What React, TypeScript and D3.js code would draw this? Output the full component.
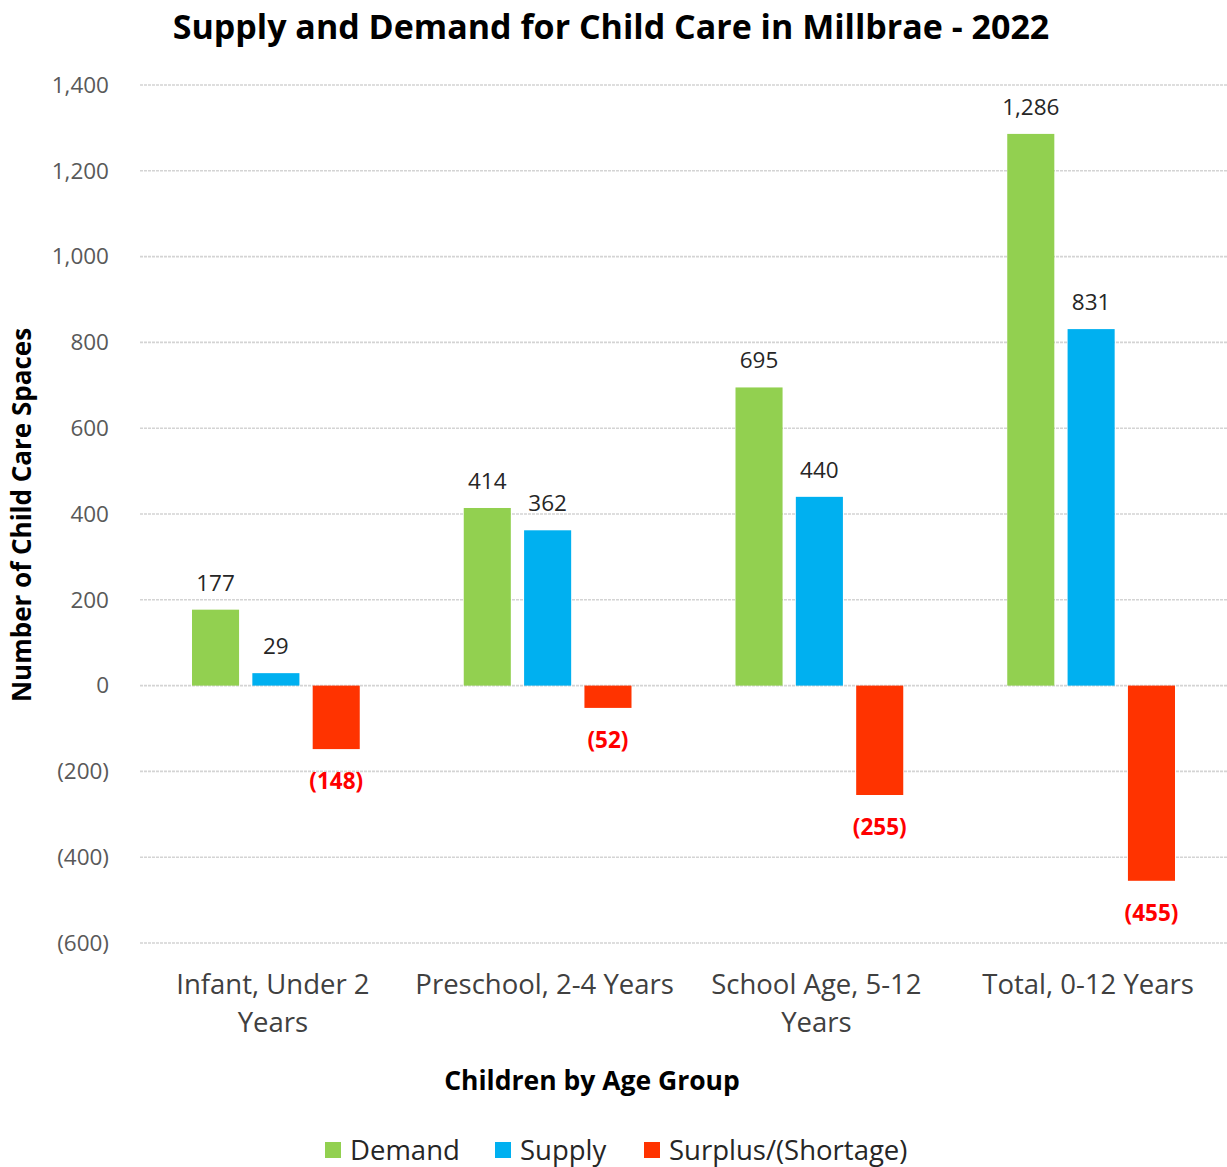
import React, { useEffect, useRef } from "react";
import * as d3 from "d3";

const categories = ["Infant, Under 2 Years", "Preschool, 2-4 Years", "School Age, 5-12 Years", "Total, 0-12 Years"];
const categoryLines = [["Infant, Under 2", "Years"], ["Preschool, 2-4 Years"], ["School Age, 5-12", "Years"], ["Total, 0-12 Years"]];
const seriesNames = ["Demand", "Supply", "Surplus/(Shortage)"];
const demand = [177, 414, 695, 1286];
const supply = [29, 362, 440, 831];
const surplus = [-148, -52, -255, -455];
const yTicks = [-600, -400, -200, 0, 200, 400, 600, 800, 1000, 1200, 1400];
const colors = ["#92D050", "#00B0F0", "#FF3300"];

const FONT = "'Open Sans', 'Noto Sans', sans-serif";

const fmt = (v: number) => (v < 0 ? `(${d3.format(",")(-v)})` : d3.format(",")(v));

const App: React.FC = () => {
  const svgRef = useRef<SVGSVGElement | null>(null);

  useEffect(() => {
    const svg = d3.select(svgRef.current);
    svg.selectAll("*").remove();

    const left = 140;
    const right = 1227;

    const x = d3.scaleBand().domain(categories).range([left, right]).paddingInner(0).paddingOuter(0);
    const xs = d3.scaleBand().domain(seriesNames).range([52, x.bandwidth() - 52]).paddingInner(0.22);
    const y = d3.scaleLinear().domain([-600, 1400]).range([943, 85]);

    // title
    svg
      .append("text")
      .attr("x", 611)
      .attr("y", 39)
      .attr("text-anchor", "middle")
      .style("font-family", FONT)
      .style("font-weight", "bold")
      .style("font-size", "34px")
      .text("Supply and Demand for Child Care in Millbrae - 2022");

    // gridlines
    svg
      .append("g")
      .selectAll("line")
      .data(yTicks)
      .enter()
      .append("line")
      .attr("x1", left)
      .attr("x2", right)
      .attr("y1", (d) => y(d))
      .attr("y2", (d) => y(d))
      .attr("stroke", "#d4d4d4")
      .attr("stroke-width", 1.6)
      .attr("stroke-dasharray", "3,1");

    // y tick labels
    svg
      .append("g")
      .selectAll("text")
      .data(yTicks)
      .enter()
      .append("text")
      .attr("x", 109)
      .attr("y", (d) => y(d))
      .attr("dy", "0.35em")
      .attr("text-anchor", "end")
      .style("font-family", FONT)
      .style("font-size", "22.5px")
      .style("fill", "#595959")
      .text((d) => fmt(d));

    const series = [demand, supply, surplus];

    series.forEach((vals, si) => {
      const g = svg.append("g");
      g.selectAll("rect")
        .data(vals)
        .enter()
        .append("rect")
        .attr("x", (_, i) => (x(categories[i]) || 0) + (xs(seriesNames[si]) || 0))
        .attr("width", xs.bandwidth())
        .attr("y", (d) => y(Math.max(0, d)))
        .attr("height", (d) => Math.abs(y(d) - y(0)))
        .attr("fill", colors[si]);

      g.selectAll("text")
        .data(vals)
        .enter()
        .append("text")
        .attr("x", (_, i) => (x(categories[i]) || 0) + (xs(seriesNames[si]) || 0) + xs.bandwidth() / 2)
        .attr("y", (d) => (d >= 0 ? y(d) - 19 : y(d) + 40))
        .attr("text-anchor", "middle")
        .style("font-family", FONT)
        .style("font-size", "22.5px")
        .style("font-weight", (d) => (d < 0 ? "bold" : "normal"))
        .style("fill", (d) => (d < 0 ? "#FF0000" : "#262626"))
        .text((d) => fmt(d));
    });

    // category labels
    const cat = svg.append("g");
    categories.forEach((c, i) => {
      const cx = (x(c) || 0) + x.bandwidth() / 2;
      categoryLines[i].forEach((line, li) => {
        cat
          .append("text")
          .attr("x", cx - 3)
          .attr("y", 994 + li * 38)
          .attr("text-anchor", "middle")
          .style("font-family", FONT)
          .style("font-size", "27.5px")
          .style("fill", "#404040")
          .text(line);
      });
    });

    // axis titles
    svg
      .append("text")
      .attr("x", 592)
      .attr("y", 1090)
      .attr("text-anchor", "middle")
      .style("font-family", FONT)
      .style("font-weight", "bold")
      .style("font-size", "26.5px")
      .text("Children by Age Group");

    svg
      .append("text")
      .attr("transform", "translate(31,515) rotate(-90)")
      .attr("text-anchor", "middle")
      .style("font-family", FONT)
      .style("font-weight", "bold")
      .style("font-size", "26px")
      .text("Number of Child Care Spaces");

    // legend
    const legendX = [325, 495, 644];
    const legend = svg.append("g");
    seriesNames.forEach((s, i) => {
      legend
        .append("rect")
        .attr("x", legendX[i])
        .attr("y", 1142)
        .attr("width", 16)
        .attr("height", 16)
        .attr("fill", colors[i]);
      legend
        .append("text")
        .attr("x", legendX[i] + 25)
        .attr("y", 1160)
        .style("font-family", FONT)
        .style("font-size", "27.5px")
        .style("fill", "#262626")
        .text(s);
    });
  }, []);

  return (
    <svg
      ref={svgRef}
      width={1227}
      height={1167}
      style={{ position: "absolute", left: 0, top: 0, background: "#fff" }}
    ></svg>
  );
};

export default App;
